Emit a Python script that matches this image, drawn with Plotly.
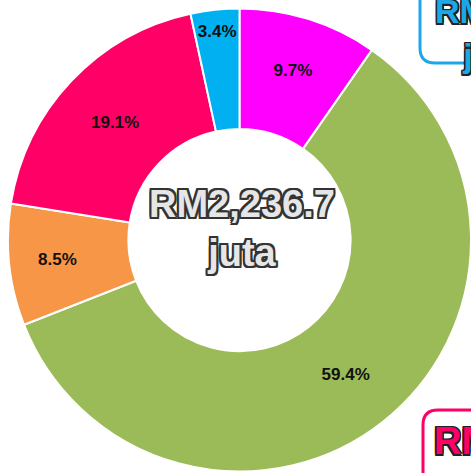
import plotly.graph_objects as go

categories = ["Kategori A", "Kategori B", "Kategori C", "Kategori D", "Kategori E"]
shares = [9.7, 59.4, 8.5, 19.1, 3.4]
colors = ["#FF00FF", "#9BBB59", "#F79646", "#FF0066", "#00B0F0"]
total_text = "RM2,236.7<br>juta"

W, H = 471, 473
outline = ",".join(f"{dx}px {dy}px 0 #333" for dx in (-2, 0, 2) for dy in (-2, 0, 2) if dx or dy)
outline_s = ",".join(f"{dx}px {dy}px 0 #222" for dx in (-1.5, 0, 1.5) for dy in (-1.5, 0, 1.5) if dx or dy)

fig = go.Figure(go.Pie(
    labels=categories,
    values=shares,
    sort=False,
    direction="clockwise",
    rotation=0,
    hole=0.48,
    marker=dict(colors=colors, line=dict(color="white", width=2)),
    texttemplate="%{value:.1f}%",
    textposition="inside",
    insidetextorientation="horizontal",
    textfont=dict(family="Liberation Sans, Arial, sans-serif", size=17, color="#111", weight="bold"),
    domain=dict(x=[8 / W, 1], y=[0, 1 - 7 / H]),
    showlegend=False,
))

fig.add_annotation(
    x=242 / W, y=1 - 229 / H, xref="paper", yref="paper",
    text=total_text, showarrow=False,
    font=dict(family="Liberation Sans, Arial, sans-serif",
              size=38, color="#E6E6E6", weight="bold", shadow=outline),
    align="center",
)

# partially visible side boxes
fig.add_shape(type="path", xref="paper", yref="paper",
              path=f"M {420/W} {1+20/H} L {420/W} {1-48/H} Q {420/W} {1-63/H} {435/W} {1-63/H} L {1+20/W} {1-63/H}",
              line=dict(color="#1AA8E8", width=3), fillcolor="white")
fig.add_annotation(x=433 / W, y=1 + 10 / H, xref="paper", yref="paper", xanchor="left", yanchor="top",
                   text="RM<br>   juta", showarrow=False, align="left",
                   font=dict(family="Liberation Sans, Arial, sans-serif",
                             size=34, color="#1AA8E8", weight="bold", shadow=outline_s))
fig.add_shape(type="path", xref="paper", yref="paper",
              path=f"M {1+20/W} {1-410/H} L {438/W} {1-410/H} Q {423/W} {1-410/H} {423/W} {1-425/H} L {423/W} {-20/H}",
              line=dict(color="#FF0066", width=3), fillcolor="white")
fig.add_annotation(x=432 / W, y=1 - 418 / H, xref="paper", yref="paper", xanchor="left", yanchor="top",
                   text="RM4<br>   juta", showarrow=False, align="left",
                   font=dict(family="Liberation Sans, Arial, sans-serif",
                             size=38, color="#FF0066", weight="bold", shadow=outline_s))

fig.update_layout(width=W, height=H, margin=dict(l=0, r=0, t=0, b=0),
                  paper_bgcolor="white", plot_bgcolor="white")
fig.write_html("out.html")
